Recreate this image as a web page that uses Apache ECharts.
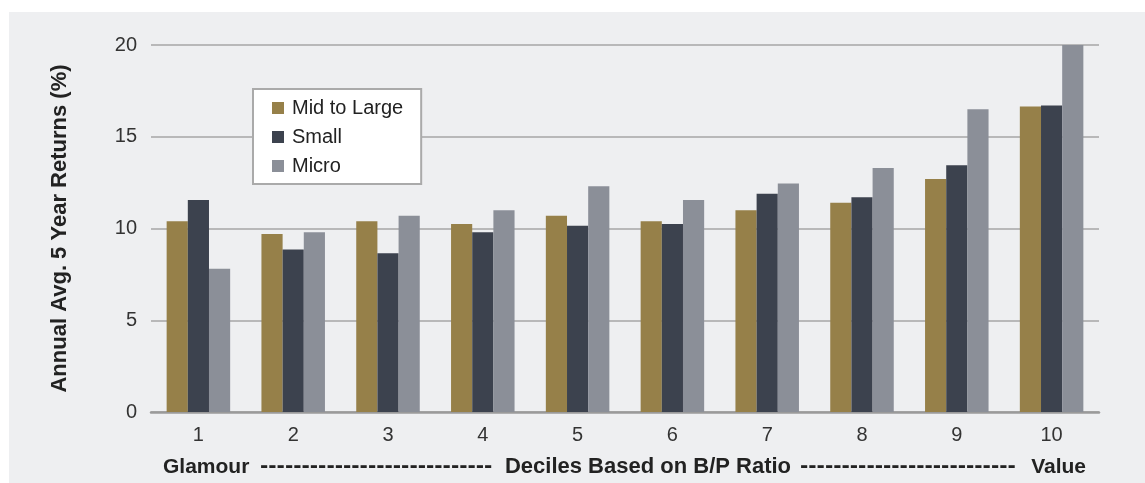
<!DOCTYPE html>
<html>
<head>
<meta charset="utf-8">
<title>Annual Avg. 5 Year Returns by B/P Decile</title>
<script src="https://cdn.jsdelivr.net/npm/echarts@6/dist/echarts.min.js"></script>
<style>
  html, body { margin: 0; padding: 0; background: #ffffff; }
  #chart { width: 1145px; height: 483px; }
</style>
</head>
<body>
<div id="chart"></div>
<script>
// Deciles sorted on book-to-price ratio (1 = glamour, 10 = value)
const deciles = ['1', '2', '3', '4', '5', '6', '7', '8', '9', '10'];

// Annual average 5-year returns (%) per size group
const midToLarge = [10.4, 9.7, 10.4, 10.25, 10.7, 10.4, 11.0, 11.4, 12.7, 16.65];
const small      = [11.55, 8.85, 8.65, 9.8, 10.15, 10.25, 11.9, 11.7, 13.45, 16.7];
const micro      = [7.8, 9.8, 10.7, 11.0, 12.3, 11.55, 12.45, 13.3, 16.5, 20.0];

const seriesNames = ['Mid to Large', 'Small', 'Micro'];
const yTicks = { min: 0, max: 20, interval: 5 };

const bottomLeft = 'Glamour';
const bottomMid = 'Deciles Based on B/P Ratio';
const bottomRight = 'Value';

const colors = ['#968049', '#3c424e', '#8b8f98'];
const textFont = '"Liberation Sans", Arial, sans-serif';

const chart = echarts.init(document.getElementById('chart'));

function barSeries(name, data, color) {
  return {
    name: name,
    type: 'bar',
    data: data,
    barGap: '0%',
    barCategoryGap: '33%',
    itemStyle: { color: color },
    emphasis: { disabled: true }
  };
}

const bottomY = 467;
const dashStyle = {
  fill: '#222',
  font: 'bold 20px "DejaVu Sans", sans-serif',
  verticalAlign: 'middle'
};
const labelStyle = {
  fill: '#222',
  font: 'bold 21px ' + textFont,
  verticalAlign: 'middle'
};

chart.setOption({
  animation: false,
  backgroundColor: '#ffffff',
  textStyle: { fontFamily: textFont },
  graphic: [
    {
      type: 'rect',
      z: -10,
      silent: true,
      shape: { x: 9, y: 12, width: 1136, height: 471 },
      style: { fill: '#eeeff1' }
    },
    {
      type: 'text', x: 163, y: bottomY,
      style: Object.assign({ text: bottomLeft, align: 'left' }, labelStyle)
    },
    {
      type: 'text', x: 260, y: bottomY,
      style: Object.assign({ text: '-'.repeat(28), align: 'left' }, dashStyle)
    },
    {
      type: 'text', x: 648, y: bottomY,
      style: Object.assign({ text: bottomMid, align: 'center' }, labelStyle, { font: 'bold 22px ' + textFont })
    },
    {
      type: 'text', x: 800, y: bottomY,
      style: Object.assign({ text: '-'.repeat(26), align: 'left' }, dashStyle)
    },
    {
      type: 'text', x: 1086, y: bottomY,
      style: Object.assign({ text: bottomRight, align: 'right' }, labelStyle)
    }
  ],
  grid: { left: 151, right: 46, top: 45, bottom: 71, containLabel: false },
  legend: {
    data: seriesNames,
    orient: 'vertical',
    left: 253,
    top: 89,
    padding: [9, 18, 8, 19],
    itemWidth: 12,
    itemHeight: 12,
    itemGap: 9,
    icon: 'rect',
    backgroundColor: '#ffffff',
    borderColor: '#aaaaaa',
    borderWidth: 2,
    selectedMode: false,
    textStyle: {
      fontSize: 20,
      lineHeight: 20,
      color: '#222',
      fontFamily: textFont,
      padding: [0, 0, 0, 3]
    }
  },
  xAxis: {
    type: 'category',
    data: deciles,
    axisLine: { show: true, lineStyle: { color: '#9a9a9a', width: 2.5 } },
    axisTick: { show: false },
    axisLabel: { color: '#333', fontSize: 20, margin: 13, fontFamily: textFont }
  },
  yAxis: {
    type: 'value',
    min: yTicks.min,
    max: yTicks.max,
    interval: yTicks.interval,
    name: 'Annual Avg. 5 Year Returns (%)',
    nameLocation: 'middle',
    nameGap: 80,
    nameRotate: 90,
    nameTextStyle: { fontSize: 22, fontWeight: 'bold', color: '#222', fontFamily: textFont },
    axisLine: { show: false },
    axisTick: { show: false },
    axisLabel: { color: '#333', fontSize: 20, margin: 14, fontFamily: textFont },
    splitLine: { show: true, lineStyle: { color: '#a6a6a6', width: 1.5 } }
  },
  series: [
    barSeries(seriesNames[0], midToLarge, colors[0]),
    barSeries(seriesNames[1], small, colors[1]),
    barSeries(seriesNames[2], micro, colors[2])
  ]
});
</script>
</body>
</html>
